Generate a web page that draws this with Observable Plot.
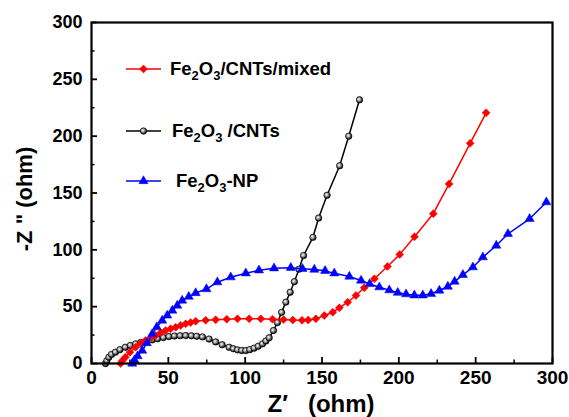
<!DOCTYPE html>
<html>
<head>
<meta charset="utf-8">
<script src="https://cdn.jsdelivr.net/npm/d3@7"></script>
<script src="https://cdn.jsdelivr.net/npm/@observablehq/plot@0.6"></script>
<style>
  body { margin: 0; background: white; }
  #chart { position: relative; width: 569px; height: 417px; }
</style>
</head>
<body>
<div id="chart"></div>
<script>
// Series names
const seriesNames = ["Fe2O3/CNTs/mixed", "Fe2O3 /CNTs", "Fe2O3-NP"];

// Fe2O3/CNTs/mixed (red diamonds)
const mixedX = [18.9, 20, 22, 25, 28.7, 32, 35.2, 38.5, 41.7, 45, 48.2, 51.5, 54.8, 58, 61.3, 64.5, 67.8, 74.3, 80.8, 88, 95, 102.6, 110.2, 117.8, 125, 131, 137, 141, 146, 151.5, 157, 161.3, 166.7, 172.1, 177.5, 184.1, 192.6, 200.6, 210.2, 222.4, 232.7, 246.4, 256.8];
const mixedY = [0, 2.5, 5.5, 10, 14.3, 17.5, 20.2, 22.5, 24.6, 27, 29, 30.6, 31.9, 33.5, 34.9, 36, 37.2, 38, 38.5, 39, 39.3, 39.4, 39.3, 39, 38.6, 38.2, 38, 38.2, 39.3, 42.2, 45.1, 49, 53.9, 59.8, 66.6, 74.5, 85.4, 96, 111.5, 131.8, 158, 193.7, 220.5];

// Fe2O3/CNTs (black spheres)
const cntsX = [9.1, 10, 11.3, 13, 15.6, 18.5, 22, 25.3, 28.7, 32, 35.7, 39.5, 43, 46.8, 50.4, 54, 57.7, 61.3, 65, 68.5, 72.2, 76.5, 80.8, 85, 89.5, 92.3, 95, 97.7, 100.4, 103, 105.8, 108.5, 111.3, 113.5, 115.6, 118.4, 121, 123.7, 126.5, 129.3, 132, 135, 138, 144.1, 147.8, 153.3, 161.5, 167.4, 174.4];
const cntsY = [0, 2.5, 5.5, 8, 10, 12.2, 14.3, 15.9, 17.3, 18.5, 19.7, 20.8, 21.8, 22.8, 23.7, 24.2, 24.5, 24.6, 24.4, 24, 23.4, 21.5, 19, 16.5, 14.3, 13, 12, 11.5, 11.4, 12.2, 13.5, 15.2, 17.3, 19.8, 22.6, 29, 36, 45, 54, 62.7, 72, 83, 95, 111, 128, 148, 174, 200, 232];

// Fe2O3-NP (blue triangles)
const npX = [26.5, 28, 30, 33, 36, 39.5, 42.5, 46, 49.3, 52.6, 55.8, 59, 63.3, 67.8, 74.8, 81.9, 90.6, 100.4, 109, 118.8, 129.7, 137.3, 145, 152, 158, 167.8, 175.4, 181, 187.3, 193.8, 199.3, 204.7, 210.1, 215.6, 221, 226.4, 231.9, 236.3, 241.7, 248.2, 254.7, 263.4, 271, 285.1, 296];
const npY = [0, 3, 6.5, 11.4, 18, 26, 32, 37.8, 42.3, 46.6, 51, 55.4, 58.8, 62, 65.5, 71.5, 75.9, 79.4, 82, 83.8, 84.2, 83.3, 82.6, 81.5, 79.4, 76.5, 73, 70, 67.1, 64.5, 62.3, 61, 60, 60, 61.3, 64.2, 67.7, 72.1, 78, 84.7, 93.5, 103.8, 114, 127.3, 141.9];

// Axis ticks
const majorTicks = [0, 50, 100, 150, 200, 250, 300];
const minorTicks = [25, 75, 125, 175, 225, 275];

const zip = (xs, ys) => xs.map((x, i) => ({x, y: ys[i]}));
const mixed = zip(mixedX, mixedY);
const cnts = zip(cntsX, cntsY);
const np = zip(npX, npY);

const RED = "#ff0000", BLACK = "#000000", BLUE = "#0000ff";
const FONT = "Arial, 'Liberation Sans', Helvetica, sans-serif";
const R_DIAMOND = 3.6, R_TRI = 3.4, R_CIRC = 3.2;

const chart = Plot.plot({
  width: 569,
  height: 417,
  marginLeft: 91,
  marginRight: 17,
  marginTop: 22,
  marginBottom: 54,
  style: {fontFamily: FONT, background: "white", color: "black", overflow: "visible"},
  x: {domain: [0, 300], label: null},
  y: {domain: [0, 300], label: null},
  marks: [
    Plot.axisX({ticks: majorTicks, tickSize: 0, tickPadding: 7, fontSize: 19, fontWeight: "bold", label: null}),
    Plot.axisX({ticks: majorTicks, tickSize: -6, tickFormat: () => "", strokeWidth: 1.8, label: null}),
    Plot.axisX({ticks: minorTicks, tickSize: -3.5, tickFormat: () => "", strokeWidth: 1.5, label: null}),
    Plot.axisY({ticks: majorTicks, tickSize: 0, tickPadding: 9, fontSize: 18, fontWeight: "bold", label: null}),
    Plot.axisY({ticks: majorTicks, tickSize: -6, tickFormat: () => "", strokeWidth: 1.8, label: null}),
    Plot.axisY({ticks: minorTicks, tickSize: -3.5, tickFormat: () => "", strokeWidth: 1.5, label: null}),
    Plot.line(cnts, {x: "x", y: "y", stroke: BLACK, strokeWidth: 1.5}),
    Plot.dot(cnts, {x: "x", y: "y", r: R_CIRC, fill: "url(#sphere)", stroke: BLACK, strokeWidth: 0.7}),
    Plot.line(mixed, {x: "x", y: "y", stroke: RED, strokeWidth: 1.5}),
    Plot.dot(mixed, {x: "x", y: "y", symbol: "diamond2", r: R_DIAMOND, fill: RED, stroke: RED, strokeWidth: 0.5}),
    Plot.line(np, {x: "x", y: "y", stroke: BLUE, strokeWidth: 1.5}),
    Plot.dot(np, {x: "x", y: "y", symbol: "triangle", r: R_TRI, fill: BLUE, stroke: BLUE, strokeWidth: 0.5}),
    Plot.frame({stroke: "black", strokeWidth: 2.2})
  ]
});

document.getElementById("chart").appendChild(chart);

const svg = d3.select(chart);
// Sphere gradient for the black markers
const defs = svg.insert("defs", ":first-child");
const grad = defs.append("radialGradient").attr("id", "sphere").attr("cx", "40%").attr("cy", "40%").attr("r", "60%");
grad.append("stop").attr("offset", "0%").attr("stop-color", "#ffffff");
grad.append("stop").attr("offset", "45%").attr("stop-color", "#9a9a9a");
grad.append("stop").attr("offset", "100%").attr("stop-color", "#000000");

// Legend (inside the plot area, top-left)
const legend = svg.append("g").attr("font-family", FONT).attr("font-weight", "bold")
  .attr("font-size", 18.5).attr("text-anchor", "start");
const legendItems = [
  {color: RED, symbol: d3.symbolDiamond2, r: R_DIAMOND, y: 69, tx: 170, sub: ["Fe", "2", "O", "3", "/CNTs/mixed"]},
  {color: BLACK, symbol: d3.symbolCircle, r: R_CIRC, y: 131, tx: 172, sub: ["Fe", "2", "O", "3", " /CNTs"]},
  {color: BLUE, symbol: d3.symbolTriangle, r: R_TRI, y: 181, tx: 176, sub: ["Fe", "2", "O", "3", "-NP"]}
];
legendItems.forEach((it, i) => {
  const g = legend.append("g");
  g.append("line").attr("x1", 126).attr("x2", 161).attr("y1", it.y).attr("y2", it.y)
    .attr("stroke", it.color).attr("stroke-width", 1.5);
  g.append("path").attr("d", d3.symbol(it.symbol, Math.PI * it.r * it.r)())
    .attr("transform", `translate(143.5,${it.y})`)
    .attr("fill", i === 1 ? "url(#sphere)" : it.color)
    .attr("stroke", it.color).attr("stroke-width", i === 1 ? 0.7 : 0.5);
  const t = g.append("text").attr("x", it.tx).attr("y", it.y + 6).attr("fill", "black")
    .attr("text-anchor", "start").style("white-space", "pre");
  it.sub.forEach((s, k) => {
    const ts = t.append("tspan").text(s);
    if (k === 1 || k === 3) ts.attr("font-size", 13).attr("dy", 5);
    else if (k > 0) ts.attr("dy", -5);
  });
});

// Axis titles
svg.append("text")
  .attr("transform", "translate(32,199) rotate(-90)")
  .attr("text-anchor", "middle")
  .attr("font-family", FONT).attr("font-weight", "bold").attr("font-size", 22)
  .style("white-space", "pre")
  .text("-Z \u02BA (ohm)");

svg.append("text")
  .attr("x", 321).attr("y", 412)
  .attr("text-anchor", "middle")
  .attr("font-family", FONT).attr("font-weight", "bold").attr("font-size", 24)
  .style("white-space", "pre")
  .text("Z\u2032   (ohm)");
</script>
</body>
</html>
